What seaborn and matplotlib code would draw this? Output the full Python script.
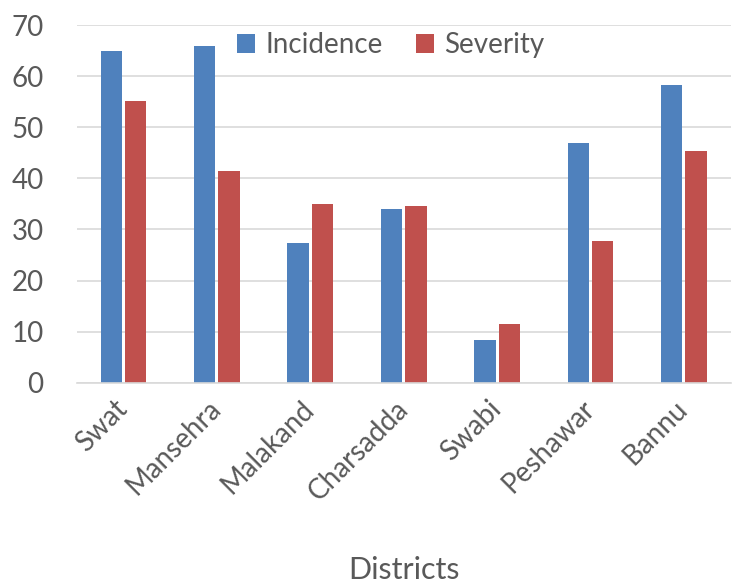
import matplotlib
matplotlib.use("Agg")
import matplotlib.pyplot as plt
import seaborn as sns
import pandas as pd

districts = ["Swat", "Mansehra", "Malakand", "Charsadda", "Swabi", "Peshawar", "Bannu"]
incidence = [65.0, 65.9, 27.3, 34.1, 8.4, 47.0, 58.2]
severity = [55.2, 41.4, 35.0, 34.6, 11.4, 27.7, 45.3]
series_names = ["Incidence", "Severity"]
y_ticks = [0, 10, 20, 30, 40, 50, 60, 70]
x_title = "Districts"

df = pd.DataFrame({
    "District": districts * 2,
    "Value": incidence + severity,
    "Series": [series_names[0]] * len(districts) + [series_names[1]] * len(districts),
})

sns.set_style("white")
plt.rcParams["font.family"] = ["Lato", "DejaVu Sans"]

fig = plt.figure(figsize=(7.32, 5.86), dpi=100)
ax = fig.add_axes([0.105, 0.347, 0.893, 0.610])

sns.barplot(data=df, x="District", y="Value", hue="Series",
            palette=["#4F81BD", "#C0504D"], saturation=1, width=0.52, gap=0.12,
            linewidth=0, ax=ax)

ax.set_ylim(0, 70)
ax.set_yticks(y_ticks)
ax.set_xlim(-0.5, len(districts) - 0.5)
ax.grid(axis="y", color="#d9d9d9", linewidth=1.2)
ax.set_axisbelow(True)
for s in ["top", "right", "left"]:
    ax.spines[s].set_visible(False)
ax.spines["bottom"].set_color("#d9d9d9")
ax.spines["bottom"].set_linewidth(1.2)
ax.tick_params(axis="both", length=0, colors="#595959", labelsize=20)
ax.tick_params(axis="y", pad=24)
ax.tick_params(axis="x", pad=16)
plt.setp(ax.get_xticklabels(), rotation=45, ha="right", va="center", rotation_mode="anchor")
ax.set_ylabel("")
ax.set_xlabel(x_title, fontsize=22, color="#595959")
ax.xaxis.set_label_coords(0.5, -0.485)

leg = ax.legend(loc="upper center", bbox_to_anchor=(0.48, 1.05), ncol=2, frameon=False,
                fontsize=20, handlelength=0.65, handleheight=0.65, columnspacing=1.2,
                handletextpad=0.35, labelcolor="#595959")

fig.savefig("out.png", dpi=100)
